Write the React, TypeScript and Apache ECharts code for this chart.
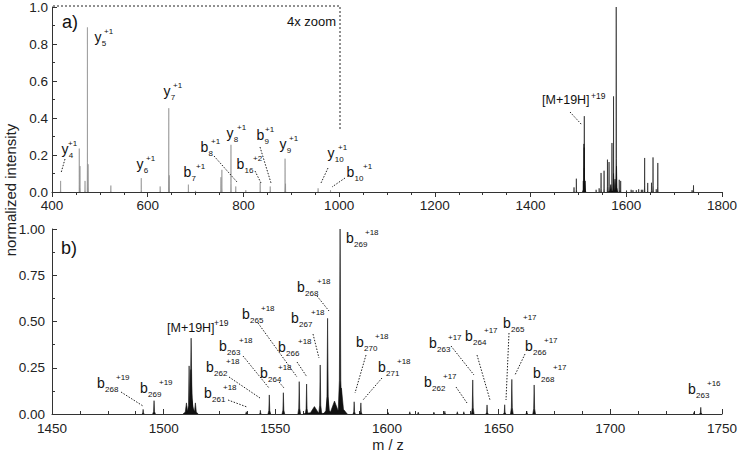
import React, { useEffect, useRef } from "react";
import * as echarts from "echarts";

// ---- data: low-mass fragment peaks (panel a, 4x zoom region) ----
const LOW_MZ = [418, 457, 458.5, 469, 474, 475.5, 523, 586.5, 626, 644, 645, 685, 700, 753, 755, 774, 784, 805, 835, 856, 887, 888, 956, 982];
const LOW_INT = [0.06, 0.235, 0.14, 0.06, 0.89, 0.15, 0.035, 0.075, 0.03, 0.453, 0.09, 0.04, 0.006, 0.08, 0.12, 0.255, 0.03, 0.01, 0.05, 0.03, 0.18, 0.045, 0.02, 0.01];

// ---- data: high-mass region peaks (panel a right part, panel b) ----
const HIGH_MZ = [1490.8, 1495.7, 1510.2, 1511.4, 1512.3, 1512.3, 1512.2, 1514.2, 1537.0, 1543.3, 1547.3, 1553.6, 1560.7, 1564.0, 1567.5, 1570.1, 1573.4, 1573.4, 1576.5, 1579.0, 1579.6, 1585.3, 1588.3, 1600.5, 1610.2, 1614.0, 1621.0, 1625.9, 1631.5, 1634.4, 1638.4, 1644.8, 1652.7, 1655.9, 1662.6, 1665.9, 1737.5, 1740.5];
const HIGH_INT = [0.025, 0.072, 0.06, 0.26, 0.41, 0.13, 0.24, 0.06, 0.012, 0.02, 0.103, 0.115, 0.175, 0.162, 0.04, 0.265, 0.517, 0.1, 0.07, 1.0, 0.14, 0.066, 0.06, 0.008, 0.012, 0.01, 0.01, 0.015, 0.012, 0.012, 0.184, 0.049, 0.05, 0.187, 0.015, 0.157, 0.01, 0.036];
const HIGH_HW = [0.5, 0.6, 1.5, 0.8, 1.1, 2.6, 1.8, 1.2, 0.4, 0.4, 0.6, 0.6, 0.6, 0.6, 5, 0.7, 0.8, 2, 5, 0.9, 2.6, 0.5, 0.5, 0.4, 0.4, 0.4, 0.4, 0.4, 0.4, 0.4, 0.6, 0.5, 0.5, 0.6, 0.5, 0.6, 0.4, 0.5];

// ---- axis ticks ----
const TOP_X = { min: 400, max: 1800, step: 200 };
const TOP_Y = { min: 0, max: 1, step: 0.2 };
const BOT_X = { min: 1450, max: 1750, step: 50 };
const BOT_Y = { min: 0, max: 1, step: 0.25 };

const FONT = '"Liberation Sans", Arial, Helvetica, sans-serif';
const LOW_HW = 0.6;

// ---- annotation layout (pixel positions) ----
type Ann = { x: number; y: number; m: string; sub: string; sup: string; sx: number };
const ANN: Ann[] = [
  { x: 61.5, y: 149, m: "y", sub: "4", sup: "+1", sx: 68 },
  { x: 94.5, y: 37, m: "y", sub: "5", sup: "+1", sx: 104 },
  { x: 136.5, y: 164, m: "y", sub: "6", sup: "+1", sx: 146 },
  { x: 163.5, y: 91, m: "y", sub: "7", sup: "+1", sx: 173 },
  { x: 183.5, y: 172, m: "b", sub: "7", sup: "+1", sx: 196 },
  { x: 200.5, y: 147, m: "b", sub: "8", sup: "+1", sx: 211 },
  { x: 226.5, y: 133, m: "y", sub: "8", sup: "+1", sx: 237 },
  { x: 236.5, y: 164, m: "b", sub: "16", sup: "+2", sx: 253 },
  { x: 256.5, y: 135, m: "b", sub: "9", sup: "+1", sx: 265 },
  { x: 279.5, y: 144, m: "y", sub: "9", sup: "+1", sx: 289 },
  { x: 327.5, y: 153, m: "y", sub: "10", sup: "+1", sx: 338 },
  { x: 346.5, y: 172, m: "b", sub: "10", sup: "+1", sx: 363 },
  { x: 97, y: 383, m: "b", sub: "268", sup: "+19", sx: 116 },
  { x: 140, y: 388, m: "b", sub: "269", sup: "+19", sx: 159 },
  { x: 204, y: 393, m: "b", sub: "261", sup: "+18", sx: 223 },
  { x: 206, y: 367, m: "b", sub: "262", sup: "+18", sx: 226 },
  { x: 219, y: 346, m: "b", sub: "263", sup: "+18", sx: 239 },
  { x: 260, y: 373, m: "b", sub: "264", sup: "+18", sx: 278 },
  { x: 242, y: 314, m: "b", sub: "265", sup: "+18", sx: 261 },
  { x: 278, y: 347, m: "b", sub: "266", sup: "+18", sx: 298 },
  { x: 291, y: 318, m: "b", sub: "267", sup: "+18", sx: 311 },
  { x: 297, y: 287, m: "b", sub: "268", sup: "+18", sx: 317 },
  { x: 346, y: 238, m: "b", sub: "269", sup: "+18", sx: 365 },
  { x: 356, y: 342, m: "b", sub: "270", sup: "+18", sx: 375 },
  { x: 378, y: 367, m: "b", sub: "271", sup: "+18", sx: 397 },
  { x: 424, y: 382, m: "b", sub: "262", sup: "+17", sx: 443 },
  { x: 429, y: 343, m: "b", sub: "263", sup: "+17", sx: 448 },
  { x: 465, y: 336, m: "b", sub: "264", sup: "+17", sx: 484 },
  { x: 503, y: 323, m: "b", sub: "265", sup: "+17", sx: 523 },
  { x: 525, y: 346, m: "b", sub: "266", sup: "+17", sx: 544 },
  { x: 533, y: 373, m: "b", sub: "268", sup: "+17", sx: 553 },
  { x: 688, y: 389, m: "b", sub: "263", sup: "+16", sx: 707 },
];

const LEADERS: number[][] = [
  [65, 159, 61, 173], [214, 156, 237, 182], [255, 171, 261, 183], [260, 147, 271, 183],
  [328, 168, 321, 183], [345, 178, 332, 187], [570, 112, 582, 125],
  [121, 392, 143, 406], [228, 400, 247, 407], [229, 377, 260, 398], [243, 356, 269, 388],
  [279, 382, 284, 388], [258, 323, 297, 377], [297, 362, 307, 377], [313, 334, 319, 358],
  [317, 296, 329, 311], [366, 355, 355, 393], [382, 378, 363, 400], [456, 387, 467, 403],
  [451, 346, 474, 375], [477, 355, 490, 400], [509, 333, 506, 400], [525, 354, 515, 375],
];

function measure(text: string, size: number) {
  const c = document.createElement("canvas").getContext("2d")!;
  c.font = `${size}px ${FONT}`;
  return c.measureText(text).width;
}

function renderPeak(color: string) {
  return (_params: any, api: any) => {
    const mz = api.value(0), h = api.value(1), w = api.value(2);
    const pts = [
      [mz - w, 0], [mz - w * 0.35, h * 0.18], [mz, h], [mz + w * 0.35, h * 0.18], [mz + w, 0],
    ].map((p) => api.coord(p));
    return { type: "polygon", shape: { points: pts }, style: { fill: color, stroke: color, lineWidth: 0.6 } };
  };
}

function xAxisCfg(grid: number, r: { min: number; max: number; step: number }, margin: number, inside: boolean) {
  return {
    type: "value", gridIndex: grid, min: r.min, max: r.max, interval: r.step,
    axisLine: { lineStyle: { color: "#333", width: 1 } },
    axisTick: { inside, length: 5, lineStyle: { color: "#333" } },
    minorTick: { show: true, splitNumber: 4, length: 3, lineStyle: { color: "#333" } },
    splitLine: { show: false },
    axisLabel: { margin, fontSize: 13.5, color: "#222", fontFamily: FONT, formatter: (v: number) => String(v) },
  };
}
function yAxisCfg(grid: number, r: { min: number; max: number; step: number }, margin: number, digits: number) {
  return {
    type: "value", gridIndex: grid, min: r.min, max: r.max, interval: r.step,
    axisLine: { show: true, lineStyle: { color: "#333", width: 1 } },
    axisTick: { show: true, inside: true, length: 5, lineStyle: { color: "#333" } },
    minorTick: { show: true, splitNumber: 2, length: 3, lineStyle: { color: "#333" } },
    splitLine: { show: false },
    axisLabel: { margin, fontSize: 13.5, color: "#222", fontFamily: FONT, formatter: (v: number) => v.toFixed(digits) },
  };
}

export default function App() {
  const ref = useRef<HTMLDivElement>(null);
  useEffect(() => {
    const chart = echarts.init(ref.current!, null, { renderer: "svg" });
    const low = LOW_MZ.map((m, i) => [m, LOW_INT[i], LOW_HW]);
    const high = HIGH_MZ.map((m, i) => [m, HIGH_INT[i], HIGH_HW[i]]);

    const graphic: any[] = [];
    const txt = (x: number, y: number, text: string, size: number, extra: any = {}) =>
      graphic.push({
        type: "text", x, y, z: 100,
        style: { text, fontSize: size, lineHeight: Math.round(size), fontFamily: FONT, fill: "#111", align: "left", verticalAlign: "middle", ...extra },
      });
    ANN.forEach((a) => {
      txt(a.x, a.y, a.m, 14);
      const w = measure(a.m, 14);
      txt(a.x + w + 0.3, a.y + 6, a.sub, 8);
      txt(a.sx, a.y - 6, a.sup, 8);
    });
    txt(542, 100, "[M+19H]", 12.5);
    txt(591, 96, "+19", 8.5);
    txt(167, 328, "[M+19H]", 12.5);
    txt(214, 323, "+19", 8.5);
    txt(62, 22, "a)", 18);
    txt(61, 248, "b)", 18);
    txt(287, 21, "4x zoom", 13);
    graphic.push({
      type: "text", x: 10, y: 190, rotation: Math.PI / 2, z: 100,
      style: { text: "normalized intensity", fontSize: 15, fontFamily: FONT, fill: "#222", align: "center", verticalAlign: "middle" },
    });
    graphic.push({
      type: "text", x: 388, y: 445, z: 100,
      style: { text: "m / z", fontSize: 14.5, lineHeight: 14, fontFamily: FONT, fill: "#222", align: "center", verticalAlign: "middle" },
    });
    LEADERS.forEach(([x1, y1, x2, y2]) =>
      graphic.push({
        type: "line", z: 100, shape: { x1, y1, x2, y2 },
        style: { stroke: "#222", lineWidth: 1, lineDash: [1.5, 1.5] },
      })
    );
    graphic.push({
      type: "polyline", z: 100, shape: { points: [[53, 6], [340, 6], [340, 130]] },
      style: { stroke: "#222", lineWidth: 1, lineDash: [2, 2], fill: null },
    });

    chart.setOption({
      animation: false,
      backgroundColor: "#fff",
      grid: [
        { left: 52, top: 6, width: 673, height: 186 },
        { left: 52, top: 229, width: 672, height: 185 },
      ],
      xAxis: [xAxisCfg(0, TOP_X, 6, false), xAxisCfg(1, BOT_X, 7, true)],
      yAxis: [yAxisCfg(0, TOP_Y, 4, 1), yAxisCfg(1, BOT_Y, 7, 2)],
      series: [
        { type: "custom", xAxisIndex: 0, yAxisIndex: 0, data: low, renderItem: renderPeak("#8c8c8c"), encode: { x: 0, y: 1 }, clip: true, silent: true },
        { type: "custom", xAxisIndex: 0, yAxisIndex: 0, data: high, renderItem: renderPeak("#111"), encode: { x: 0, y: 1 }, clip: true, silent: true },
        { type: "custom", xAxisIndex: 1, yAxisIndex: 1, data: high, renderItem: renderPeak("#111"), encode: { x: 0, y: 1 }, clip: true, silent: true },
      ],
      graphic,
    });
    return () => chart.dispose();
  }, []);
  return <div ref={ref} style={{ width: 740, height: 459, position: "absolute", left: 0, top: 0 }} />;
}
